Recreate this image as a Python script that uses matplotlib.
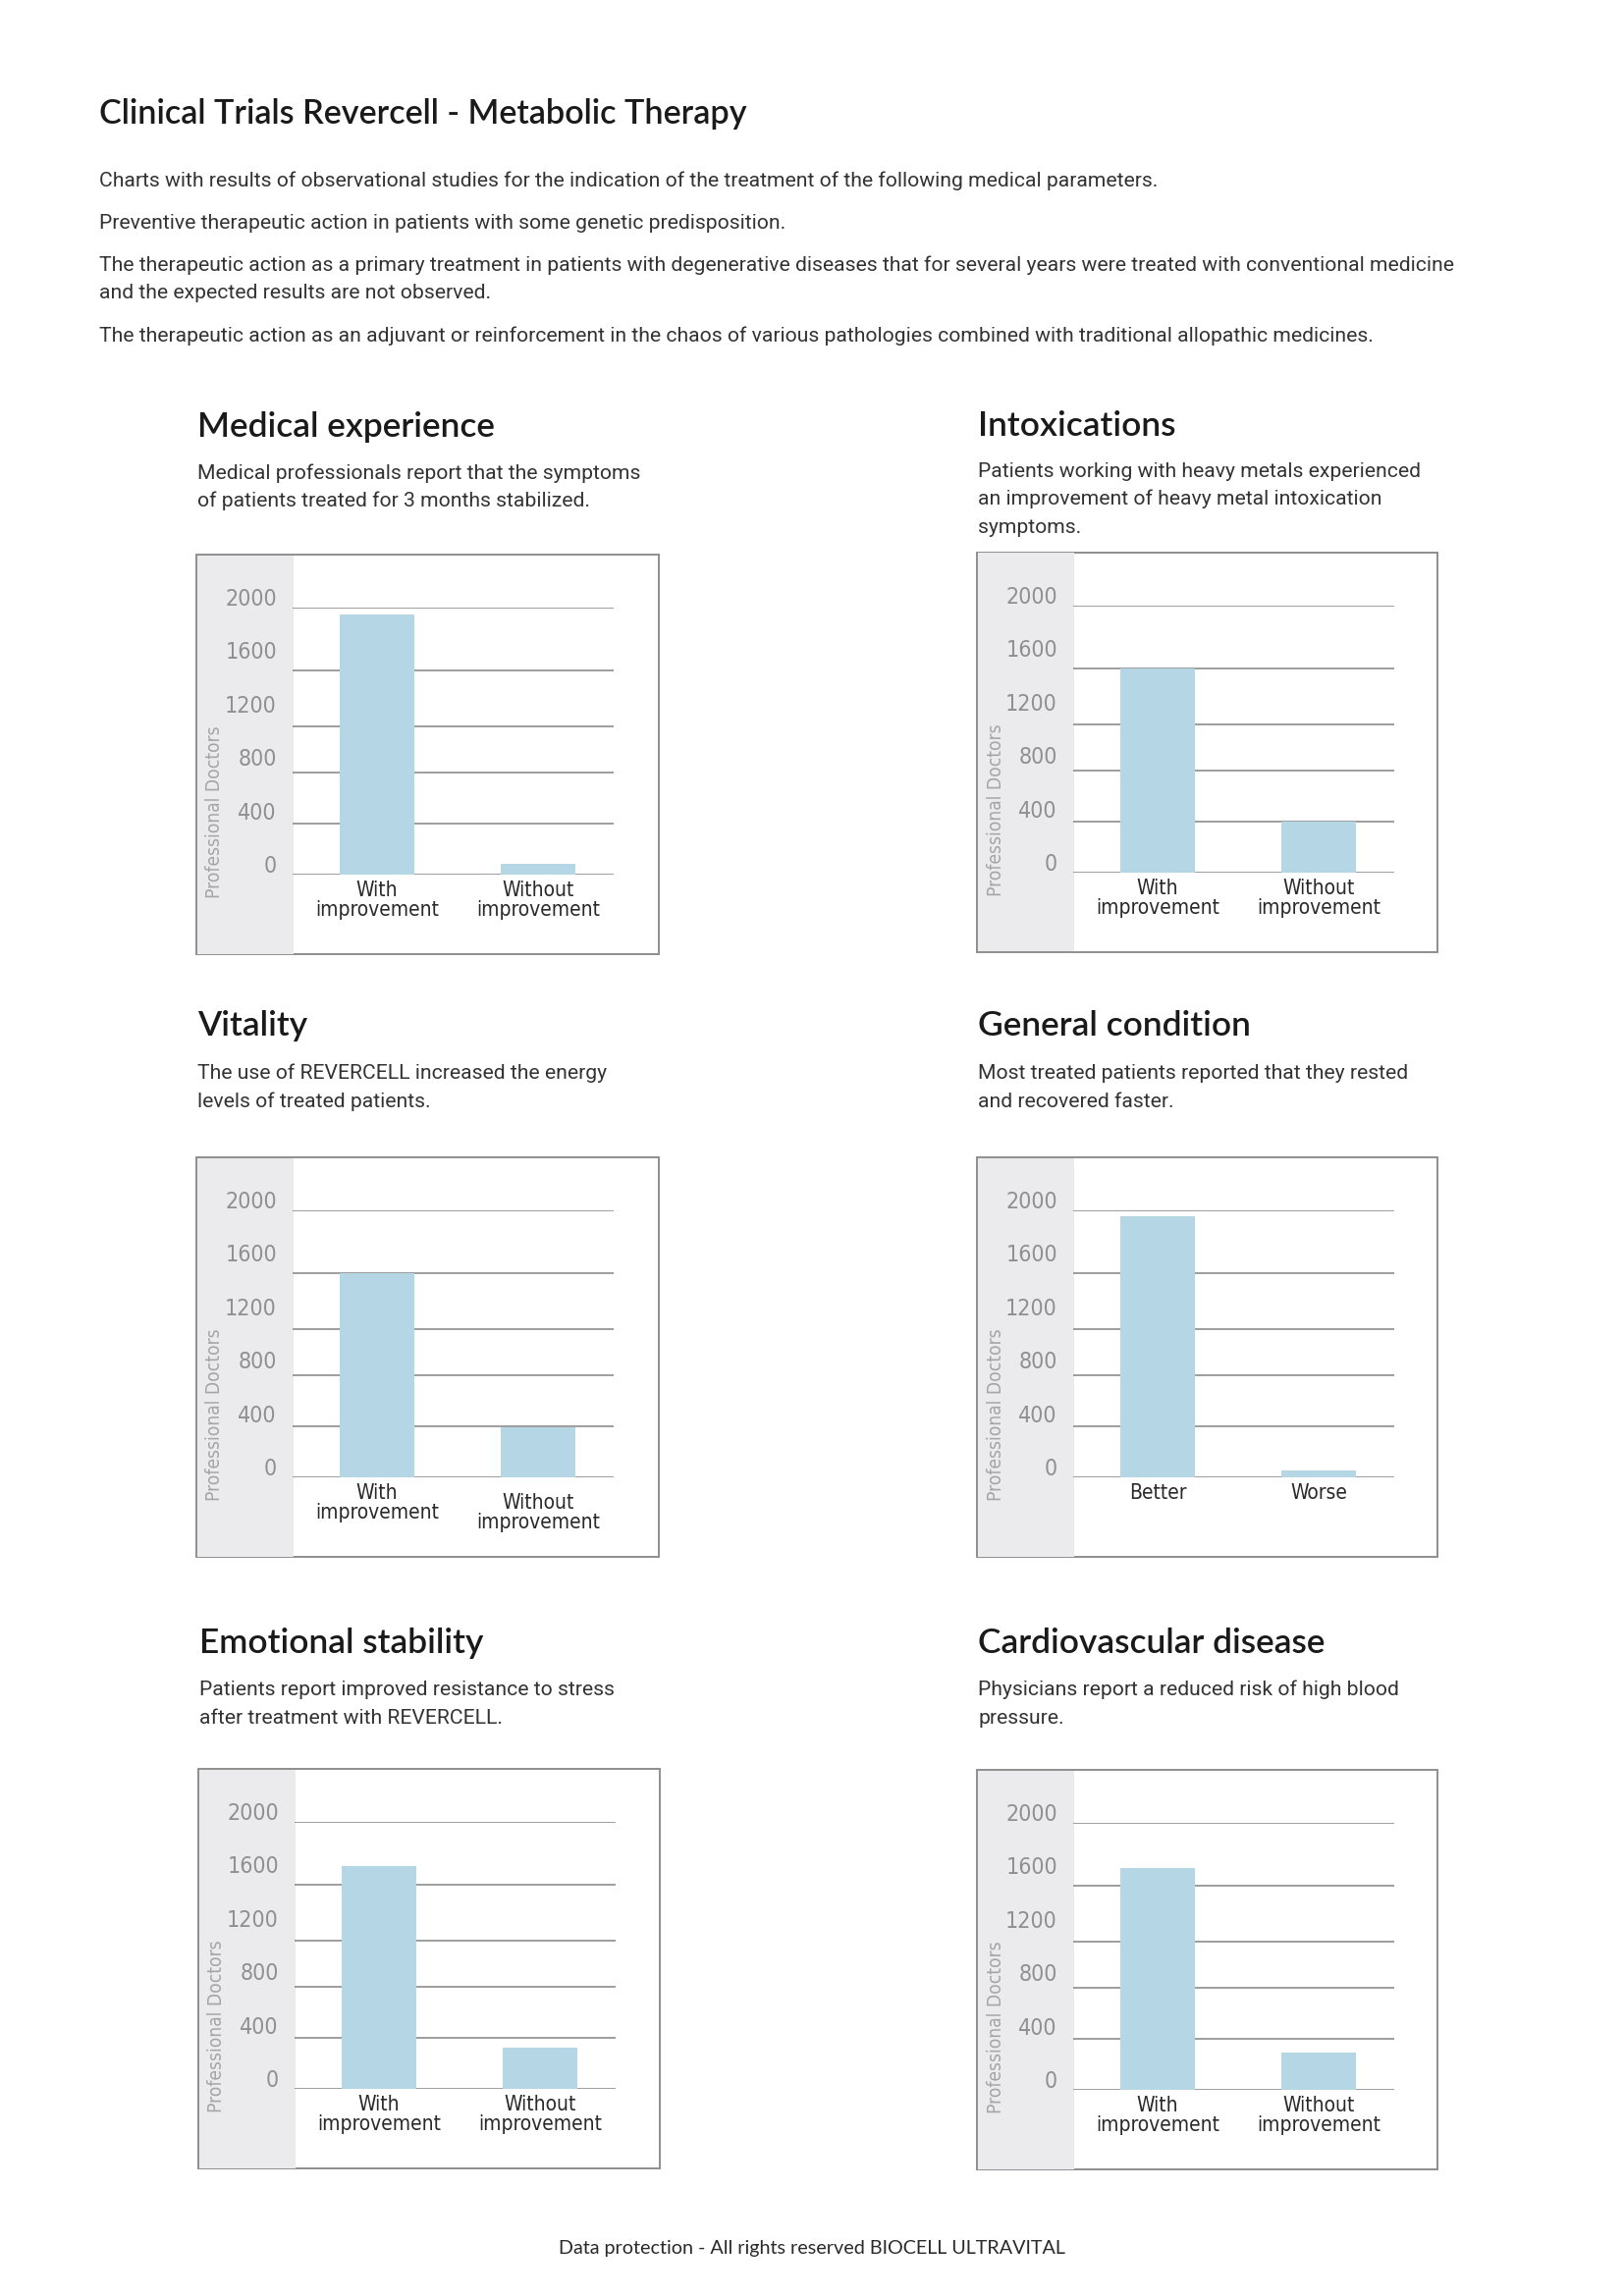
import matplotlib
matplotlib.use('Agg')
import matplotlib.pyplot as plt
import matplotlib.transforms as mtransforms
from matplotlib import font_manager
from matplotlib.patches import Rectangle

# page text
title = 'Clinical Trials Revercell - Metabolic Therapy'
intro = [
    'Charts with results of observational studies for the indication of the treatment of the following medical parameters.',
    'Preventive therapeutic action in patients with some genetic predisposition.',
    'The therapeutic action as a primary treatment in patients with degenerative diseases that for several years were treated with conventional medicine\nand the expected results are not observed.',
    'The therapeutic action as an adjuvant or reinforcement in the chaos of various pathologies combined with traditional allopathic medicines.',
]
footer = 'Data protection - All rights reserved BIOCELL ULTRAVITAL'

panel_titles = ['Medical experience', 'Intoxications', 'Vitality',
                'General condition', 'Emotional stability', 'Cardiovascular disease']
panel_notes = [
    'Medical professionals report that the symptoms\nof patients treated for 3 months stabilized.',
    'Patients working with heavy metals experienced\nan improvement of heavy metal intoxication\nsymptoms.',
    'The use of REVERCELL increased the energy\nlevels of treated patients.',
    'Most treated patients reported that they rested\nand recovered faster.',
    'Patients report improved resistance to stress\nafter treatment with REVERCELL.',
    'Physicians report a reduced risk of high blood\npressure.',
]

# chart data
improve_cats = ['With\nimprovement', 'Without\nimprovement']
better_cats = ['Better', 'Worse']
categories = [improve_cats, improve_cats, improve_cats, better_cats, improve_cats, improve_cats]
values = [
    [1951, 83],
    [1528, 386],
    [1528, 376],
    [1956, 54],
    [1670, 312],
    [1664, 282],
]
y_ticks = [0, 400, 800, 1200, 1600, 2000]
tick_labels = ['0', '400', '800', '1200', '1600', '2000']
grid_levels = [0, 380, 762, 1113, 1529, 2000]
y_label = 'Professional Doctors'

# layout (pixels on the page)
W, H = 1654, 2339
box_left = [200, 995, 200, 995, 202, 995]
box_top = [565, 563, 1179, 1179, 1802, 1803]
box_w = [471, 469, 471, 469, 470, 469]
box_h = 407
head_base = [445, 444, 1055, 1055, 1684, 1684]
note_base = [488, 486, 1099, 1099, 1727, 1727]
intro_base = [190, 233, 276, 348]
second_label_drop = [0, 0, 10, 0, 0, 0]

plt.rcParams['font.family'] = ['Liberation Sans', 'DejaVu Sans']

BAR = '#b5d7e5'
SIDE = '#ebebed'
EDGE = '#8e8e8e'
GRID = '#8c8c8c'
HEAD_FONT = ['Lato', 'DejaVu Sans']
BODY_FONT = ['Roboto', 'Liberation Sans', 'DejaVu Sans']

# a narrow face for the chart labels, if one is installed
narrow_file = None
for f in font_manager.fontManager.ttflist:
    if 'Narrow' in f.name or 'Condensed' in f.name or f.stretch in ('condensed', 'semi-condensed'):
        if 'Bold' not in f.fname and 'Oblique' not in f.fname and 'Italic' not in f.fname:
            narrow_file = f.fname
            break
if narrow_file:
    chart_font = dict(fontproperties=font_manager.FontProperties(fname=narrow_file))
    tick_size, cat_size, ylab_size = 8.3, 7.5, 6.9
else:
    chart_font = dict(family=['Liberation Sans', 'DejaVu Sans'])
    tick_size, cat_size, ylab_size = 7.2, 6.4, 6.3


def fx(x):
    return x / W


def fy(y):
    return 1 - y / H


def put_lines(x, yb, text, step, **kw):
    for k, line in enumerate(text.split('\n')):
        fig.text(fx(x), fy(yb + k * step), line, va='baseline', **kw)


fig = plt.figure(figsize=(W / 200, H / 200), dpi=200)
fig.patch.set_facecolor('white')

# header
fig.text(fx(101), fy(126), title, fontsize=12.3, family=HEAD_FONT, weight='semibold',
         color='#1a1a1a', va='baseline')
for txt, yb in zip(intro, intro_base):
    put_lines(101, yb, txt, 28, fontsize=7.6, family=BODY_FONT, color='#333333')

lift = mtransforms.ScaledTranslation(0, 11 / 200, fig.dpi_scale_trans)

for i in range(6):
    bx, by, bw = box_left[i], box_top[i], box_w[i]

    # heading and note
    fig.text(fx(bx + 1), fy(head_base[i]), panel_titles[i], fontsize=12.7, family=HEAD_FONT,
             weight='semibold', color='#1a1a1a', va='baseline')
    put_lines(bx + 1, note_base[i], panel_notes[i], 28.5, fontsize=7.6, family=BODY_FONT,
              color='#333333')

    # frame and grey side band
    fig.add_artist(Rectangle((fx(bx), fy(by + box_h)), bw / W, box_h / H,
                             transform=fig.transFigure, facecolor='white',
                             edgecolor=EDGE, linewidth=0.7, zorder=0))
    fig.add_artist(Rectangle((fx(bx + 0.5), fy(by + box_h - 0.5)), 98 / W, (box_h - 1) / H,
                             transform=fig.transFigure, facecolor=SIDE,
                             edgecolor='none', zorder=0.5))

    # plot area
    ax = fig.add_axes([fx(bx + 98), fy(by + 326), 327 / W, 272 / H])
    ax.patch.set_visible(False)
    ax.set_zorder(2)
    for lvl in grid_levels:
        ax.axhline(lvl, color=GRID, linewidth=0.6, zorder=1)
    ax.bar([0, 1], values[i], width=0.463, color=BAR, zorder=2)
    ax.set_xlim(-0.524, 1.47)
    ax.set_ylim(0, 2000)
    for s in ax.spines.values():
        s.set_visible(False)

    ax.tick_params(axis='y', length=0, pad=5.8)
    ax.tick_params(axis='x', length=0, pad=2.3)

    ax.set_yticks(y_ticks)
    ax.set_yticklabels(tick_labels, color='#8f8f8f', **chart_font)
    for lab in ax.get_yticklabels():
        lab.set_fontsize(tick_size)
        lab.set_transform(lab.get_transform() + lift)

    ax.set_xticks([0, 1])
    ax.set_xticklabels(categories[i], color='#2a2a2a', linespacing=1.0, **chart_font)
    xlabs = ax.get_xticklabels()
    for lab in xlabs:
        lab.set_fontsize(cat_size)
    if second_label_drop[i]:
        drop = mtransforms.ScaledTranslation(0, -second_label_drop[i] / 200, fig.dpi_scale_trans)
        xlabs[1].set_transform(xlabs[1].get_transform() + drop)

    t = fig.text(fx(bx + 19), fy(by + 262), y_label, rotation=90, ha='center', va='center',
                 color='#a5a5a5', **chart_font)
    t.set_fontsize(ylab_size)

fig.text(0.5, fy(2296), footer, fontsize=7.1, family=HEAD_FONT,
         color='#2a2a2a', ha='center', va='baseline')

fig.savefig('out.png', dpi=200, facecolor='white')
